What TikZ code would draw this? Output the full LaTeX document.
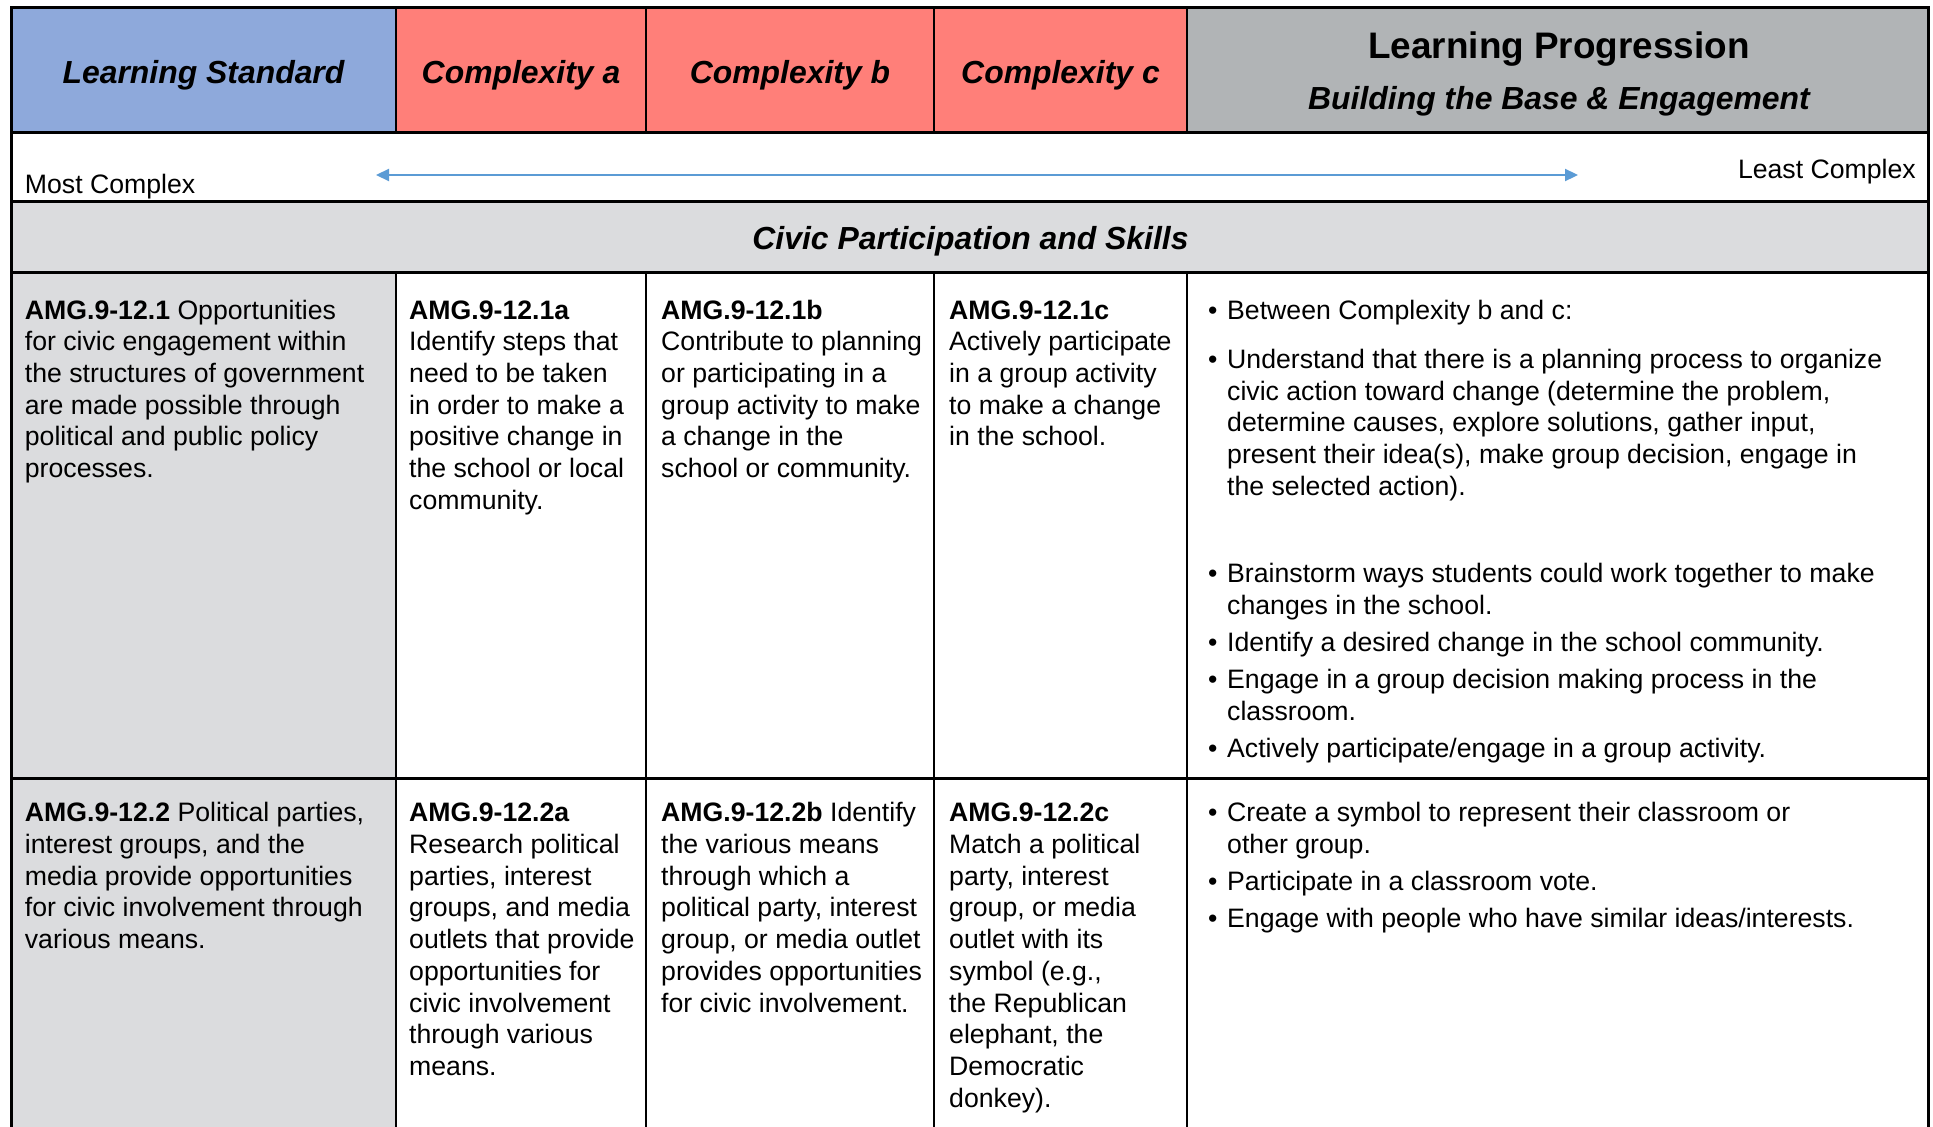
\documentclass[tikz,border=0pt]{standalone}
\usepackage{fontspec}
\setmainfont{Liberation Sans}
\usetikzlibrary{arrows.meta}
\definecolor{hdrblue}{HTML}{8EA9DB}
\definecolor{hdrred}{HTML}{FF7F79}
\definecolor{hdrgray}{HTML}{B1B4B6}
\definecolor{lgray}{HTML}{DBDCDE}
\definecolor{arrblue}{HTML}{5B9BD5}
\newcommand\bodyfnt{\fontsize{26.66}{31.7}\selectfont}
\newcommand\hdrfnt{\fontsize{31.9}{36}\selectfont\bfseries\itshape}
\newcommand\lpfnt{\fontsize{36.9}{42}\selectfont\bfseries}
\newcommand\bul{\makebox[19pt][l]{•}}
\newcommand\ind{\hspace*{19pt}}
\begin{document}
\begin{tikzpicture}[x=1pt,y=-1pt,
  hdr/.style={anchor=base,inner sep=0pt,font=\hdrfnt},
  txt/.style={anchor=north west,inner sep=0pt,align=left,font=\bodyfnt},
  hrule/.style={line width=3pt,black},
  vrule/.style={line width=2pt,black},
  frame/.style={line width=3pt,black}]
\fill[white] (0,0) rectangle (1933,1127);
\useasboundingbox (0,0) rectangle (1933,1127);
% fills
\fill[hdrblue] (11,7) rectangle (396,132);
\fill[hdrred] (396,7) rectangle (1187,132);
\fill[hdrgray] (1187,7) rectangle (1928,132);
\fill[lgray] (11,201) rectangle (1928,272);
\fill[lgray] (11,272) rectangle (396,1127);
% rules
\draw[hrule] (11,132) -- (1928,132);
\draw[hrule] (11,201) -- (1928,201);
\draw[hrule] (11,272) -- (1928,272);
\draw[hrule] (11,778) -- (1928,778);
\foreach \x in {396,646,934,1187}{
  \draw[vrule] (\x,7) -- (\x,132);
  \draw[vrule] (\x,272) -- (\x,1127);
}
\draw[frame] (11,1127) -- (11,7) -- (1928,7) -- (1928,1127);
% header
\node[hdr] (hLS) at (203.5,83) {Learning Standard};
\node[hdr] (hCa) at (521,83) {Complexity a};
\node[hdr] (hCb) at (790,83) {Complexity b};
\node[hdr] (hCc) at (1060.5,83) {Complexity c};
\node[anchor=base,inner sep=0pt,font=\lpfnt] (hLP) at (1559,58.5) {Learning Progression};
\node[hdr] (hBB) at (1559,109) {Building the Base \& Engagement};
% arrow row
\node[anchor=base west,inner sep=0pt,font=\bodyfnt] (most) at (24.7,193) {Most Complex};
\node[anchor=base east,inner sep=0pt,font=\bodyfnt] (least) at (1916,178) {Least Complex};
\coordinate (arrL) at (376,175);
\coordinate (arrR) at (1578,175);
\draw[arrblue,line width=2.2pt,{Triangle[length=13pt,width=12pt]}-{Triangle[length=13pt,width=12pt]}] (arrL) -- (arrR);
% section row
\node[hdr] (civic) at (970.5,249) {Civic Participation and Skills};
% row 1
\node[txt] (r1c1) at (24.7,296.8) {\strut\textbf{AMG.9-12.1} Opportunities\\for civic engagement within\\the structures of government\\are made possible through\\political and public policy\\processes.};
\node[txt] (r1c2) at (409,296.8) {\strut\textbf{AMG.9-12.1a}\\Identify steps that\\need to be taken\\in order to make a\\positive change in\\the school or local\\community.};
\node[txt] (r1c3) at (661,296.8) {\strut\textbf{AMG.9-12.1b}\\Contribute to planning\\or participating in a\\group activity to make\\a change in the\\school or community.};
\node[txt] (r1c4) at (949,296.8) {\strut\textbf{AMG.9-12.1c}\\Actively participate\\in a group activity\\to make a change\\in the school.};
\node[txt] (r1b1) at (1208,296.8) {\strut\bul Between Complexity b and c:};
\node[txt] (r1b2) at (1208,346.1) {\strut\bul Understand that there is a planning process to organize\\\ind civic action toward change (determine the problem,\\\ind determine causes, explore solutions, gather input,\\\ind present their idea(s), make group decision, engage in\\\ind the selected action).};
\node[txt] (r1b3) at (1208,560.3) {\strut\bul Brainstorm ways students could work together to make\\\ind changes in the school.};
\node[txt] (r1b4) at (1208,629.3) {\strut\bul Identify a desired change in the school community.};
\node[txt] (r1b5) at (1208,666.3) {\strut\bul Engage in a group decision making process in the\\\ind classroom.};
\node[txt] (r1b6) at (1208,735.3) {\strut\bul Actively participate/engage in a group activity.};
% row 2
\node[txt] (r2c1) at (24.7,799.4) {\strut\textbf{AMG.9-12.2} Political parties,\\interest groups, and the\\media provide opportunities\\for civic involvement through\\various means.};
\node[txt] (r2c2) at (409,799.4) {\strut\textbf{AMG.9-12.2a}\\Research political\\parties, interest\\groups, and media\\outlets that provide\\opportunities for\\civic involvement\\through various\\means.};
\node[txt] (r2c3) at (661,799.4) {\strut\textbf{AMG.9-12.2b} Identify\\the various means\\through which a\\political party, interest\\group, or media outlet\\provides opportunities\\for civic involvement.};
\node[txt] (r2c4) at (949,799.4) {\strut\textbf{AMG.9-12.2c}\\Match a political\\party, interest\\group, or media\\outlet with its\\symbol (e.g.,\\the Republican\\elephant, the\\Democratic\\donkey).};
\node[txt] (r2b1) at (1208,799.4) {\strut\bul Create a symbol to represent their classroom or\\\ind other group.};
\node[txt] (r2b2) at (1208,868.5) {\strut\bul Participate in a classroom vote.};
\node[txt] (r2b3) at (1208,905.5) {\strut\bul Engage with people who have similar ideas/interests.};
\end{tikzpicture}
\end{document}
